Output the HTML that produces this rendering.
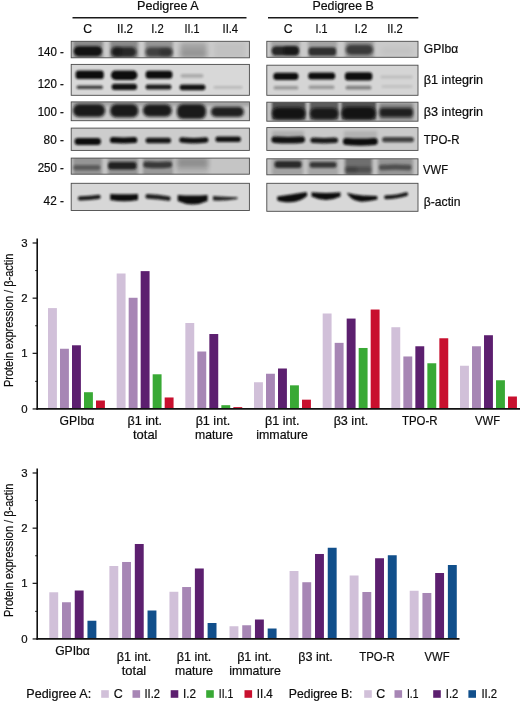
<!DOCTYPE html>
<html lang="en"><head><meta charset="utf-8"><title>Figure</title>
<style>html,body{margin:0;padding:0;background:#fff;}body{width:520px;height:701px;overflow:hidden;}svg{display:block;}text{font-family:"Liberation Sans", sans-serif;fill:#0c0c0c;stroke:#0c0c0c;stroke-width:0.2px;}</style>
</head><body>
<svg width="520" height="701" viewBox="0 0 520 701">
<defs>
<filter id="f0" filterUnits="userSpaceOnUse" x="60" y="30" width="370" height="190"><feGaussianBlur stdDeviation="0.6"/></filter>
<filter id="f1" filterUnits="userSpaceOnUse" x="60" y="30" width="370" height="190"><feGaussianBlur stdDeviation="0.9"/></filter>
<filter id="f2" filterUnits="userSpaceOnUse" x="60" y="30" width="370" height="190"><feGaussianBlur stdDeviation="1.3"/></filter>
<filter id="f3" filterUnits="userSpaceOnUse" x="60" y="30" width="370" height="190"><feGaussianBlur stdDeviation="1.8"/></filter>
<filter id="f4" filterUnits="userSpaceOnUse" x="60" y="30" width="370" height="190"><feGaussianBlur stdDeviation="2.5"/></filter>
<filter id="f5" filterUnits="userSpaceOnUse" x="60" y="30" width="370" height="190"><feGaussianBlur stdDeviation="3.5"/></filter>
</defs>
<rect width="520" height="701" fill="#fff"/>
<text x="167.9" y="10" font-size="12.2" text-anchor="middle" textLength="61.75" lengthAdjust="spacingAndGlyphs" >Pedigree A</text>
<text x="343.1" y="10" font-size="12.2" text-anchor="middle" textLength="61.25" lengthAdjust="spacingAndGlyphs" >Pedigree B</text>
<line x1="72.5" y1="17.85" x2="246.5" y2="17.85" stroke="#1a1a1a" stroke-width="1.5"/>
<line x1="268" y1="17.85" x2="418.3" y2="17.85" stroke="#1a1a1a" stroke-width="1.5"/>
<text x="87.7" y="33" font-size="12.2" text-anchor="middle" textLength="8.8" lengthAdjust="spacingAndGlyphs" >C</text>
<text x="125" y="33" font-size="12.2" text-anchor="middle" textLength="16" lengthAdjust="spacingAndGlyphs" >II.2</text>
<text x="157.5" y="33" font-size="12.2" text-anchor="middle" textLength="12.5" lengthAdjust="spacingAndGlyphs" >I.2</text>
<text x="192" y="33" font-size="12.2" text-anchor="middle" textLength="15" lengthAdjust="spacingAndGlyphs" >II.1</text>
<text x="230.3" y="33" font-size="12.2" text-anchor="middle" textLength="15.5" lengthAdjust="spacingAndGlyphs" >II.4</text>
<text x="288.1" y="33" font-size="12.2" text-anchor="middle" textLength="8.8" lengthAdjust="spacingAndGlyphs" >C</text>
<text x="321.5" y="33" font-size="12.2" text-anchor="middle" textLength="12" lengthAdjust="spacingAndGlyphs" >I.1</text>
<text x="361" y="33" font-size="12.2" text-anchor="middle" textLength="12.5" lengthAdjust="spacingAndGlyphs" >I.2</text>
<text x="395" y="33" font-size="12.2" text-anchor="middle" textLength="15.5" lengthAdjust="spacingAndGlyphs" >II.2</text>
<text x="63.9" y="55.5" font-size="12.2" text-anchor="end" textLength="26.25" lengthAdjust="spacingAndGlyphs" >140 -</text>
<text x="63.9" y="88" font-size="12.2" text-anchor="end" textLength="26.25" lengthAdjust="spacingAndGlyphs" >120 -</text>
<text x="63.9" y="115.5" font-size="12.2" text-anchor="end" textLength="26.25" lengthAdjust="spacingAndGlyphs" >100 -</text>
<text x="63.9" y="143.75" font-size="12.2" text-anchor="end" textLength="20.3" lengthAdjust="spacingAndGlyphs" >80 -</text>
<text x="63.9" y="172" font-size="12.2" text-anchor="end" textLength="26.25" lengthAdjust="spacingAndGlyphs" >250 -</text>
<text x="63.9" y="205.25" font-size="12.2" text-anchor="end" textLength="20.3" lengthAdjust="spacingAndGlyphs" >42 -</text>
<text x="423.75" y="53.25" font-size="12.2" text-anchor="start" textLength="34.5" lengthAdjust="spacingAndGlyphs" >GPIbα</text>
<text x="423.75" y="83.75" font-size="12.2" text-anchor="start" textLength="59.25" lengthAdjust="spacingAndGlyphs" >β1 integrin</text>
<text x="423.75" y="115.5" font-size="12.2" text-anchor="start" textLength="59.25" lengthAdjust="spacingAndGlyphs" >β3 integrin</text>
<text x="423.75" y="144.25" font-size="12.2" text-anchor="start" textLength="35.75" lengthAdjust="spacingAndGlyphs" >TPO-R</text>
<text x="423" y="174.25" font-size="12.2" text-anchor="start" textLength="25" lengthAdjust="spacingAndGlyphs" >VWF</text>
<text x="423.75" y="205.75" font-size="12.2" text-anchor="start" textLength="36.75" lengthAdjust="spacingAndGlyphs" >β-actin</text>
<clipPath id="a1"><rect x="71.2" y="41.3" width="178.2" height="16.5"/></clipPath>
<rect x="71.2" y="41.3" width="178.2" height="16.5" fill="#cccccc"/>
<g clip-path="url(#a1)">
<rect x="73" y="40" width="30" height="19" fill="#101010" opacity="0.34" filter="url(#f3)"/>
<rect x="110" y="40" width="28" height="19" fill="#101010" opacity="0.34" filter="url(#f3)"/>
<rect x="145" y="40" width="28" height="19" fill="#101010" opacity="0.28" filter="url(#f3)"/>
<rect x="180" y="42" width="27" height="17" fill="#101010" opacity="0.2" filter="url(#f4)"/>
<rect x="214" y="42" width="32" height="17" fill="#101010" opacity="0.05" filter="url(#f4)"/>
<rect x="73.8" y="46.2" width="28.2" height="10.0" rx="4.8" fill="#101010" opacity="0.95" filter="url(#f2)"/>
<rect x="111.6" y="47.0" width="24.8" height="10.0" rx="4.8" fill="#101010" opacity="0.78" filter="url(#f3)"/>
<rect x="111.6" y="47.3" width="9.8" height="8.4" rx="3.2" fill="#101010" opacity="0.45" filter="url(#f3)"/>
<rect x="145.6" y="47.2" width="26.8" height="9.6" rx="4.6" fill="#101010" opacity="0.62" filter="url(#f3)"/>
<rect x="159.6" y="48.8" width="12.8" height="7.4" rx="3.2" fill="#101010" opacity="0.25" filter="url(#f3)"/>
<rect x="180.6" y="49.3" width="25.8" height="7.4" rx="3.2" fill="#101010" opacity="0.1" filter="url(#f4)"/>
</g>
<rect x="71.2" y="41.3" width="178.2" height="16.5" fill="none" stroke="#4a4a4a" stroke-width="0.9"/>
<clipPath id="a2"><rect x="71.2" y="64.4" width="178.2" height="30.9"/></clipPath>
<rect x="71.2" y="64.4" width="178.2" height="30.9" fill="#d8d8d8"/>
<g clip-path="url(#a2)">
<rect x="75.6" y="70.5" width="28.2" height="8.6" rx="3.2" fill="#101010" opacity="1" filter="url(#f1)"/>
<rect x="111.0" y="70.5" width="26.4" height="9.4" rx="4.5" fill="#101010" opacity="1" filter="url(#f1)"/>
<rect x="145.6" y="70.8" width="26.8" height="8.0" rx="3.2" fill="#101010" opacity="1" filter="url(#f1)"/>
<rect x="180.6" y="73.9" width="22.8" height="3.8" rx="1.7" fill="#101010" opacity="0.22" filter="url(#f2)"/>
<rect x="76.6" y="85.4" width="26.3" height="3.6" rx="1.6" fill="#101010" opacity="0.75" filter="url(#f1)"/>
<rect x="111.6" y="83.65" width="25.5" height="6.300000000000001" rx="2.95" fill="#101010" opacity="0.97" filter="url(#f1)"/>
<rect x="145.6" y="84.6" width="25.8" height="4.800000000000001" rx="2.2" fill="#101010" opacity="0.92" filter="url(#f1)"/>
<rect x="179.6" y="84.4" width="25.8" height="5.800000000000001" rx="2.7" fill="#101010" opacity="0.97" filter="url(#f1)"/>
<rect x="213.6" y="86.0" width="28.8" height="2.8" rx="1.2" fill="#101010" opacity="0.15" filter="url(#f2)"/>
</g>
<rect x="71.2" y="64.4" width="178.2" height="30.9" fill="none" stroke="#4a4a4a" stroke-width="0.9"/>
<clipPath id="a3"><rect x="71.2" y="101.9" width="178.2" height="18.8"/></clipPath>
<rect x="71.2" y="101.9" width="178.2" height="18.8" fill="#cacaca"/>
<g clip-path="url(#a3)">
<rect x="72" y="101" width="178" height="5" fill="#101010" opacity="0.2" filter="url(#f3)"/>
<rect x="72.9" y="103.9" width="32.3" height="13.0" rx="6.0" fill="#101010" opacity="0.93" filter="url(#f3)"/>
<rect x="110.1" y="103.9" width="28.3" height="13.6" rx="6.0" fill="#101010" opacity="0.93" filter="url(#f3)"/>
<rect x="142.8" y="104.2" width="29.1" height="12.6" rx="6.0" fill="#101010" opacity="0.93" filter="url(#f3)"/>
<rect x="176.9" y="104.0" width="29.2" height="15.0" rx="6.0" fill="#101010" opacity="0.93" filter="url(#f3)"/>
<rect x="210.9" y="106.8" width="33.0" height="10.200000000000001" rx="4.9" fill="#101010" opacity="0.9" filter="url(#f3)"/>
</g>
<rect x="71.2" y="101.9" width="178.2" height="18.8" fill="none" stroke="#4a4a4a" stroke-width="0.9"/>
<clipPath id="a4"><rect x="71.2" y="128.1" width="178.2" height="22.3"/></clipPath>
<rect x="71.2" y="128.1" width="178.2" height="22.3" fill="#cdcdcd"/>
<g clip-path="url(#a4)">
<rect x="74.6" y="138.1" width="26.3" height="6.800000000000001" rx="3.2" fill="#101010" opacity="1" filter="url(#f1)"/>
<path d="M112.9 140.1 Q123.6 140.9 134.3 140.1" fill="none" stroke="#101010" stroke-width="6.0" stroke-linecap="round" opacity="1" filter="url(#f1)"/>
<rect x="145.6" y="137.8" width="25.4" height="5.4" rx="2.5" fill="#101010" opacity="0.95" filter="url(#f1)"/>
<path d="M182.0 140.0 Q193.8 141.6 205.6 140.0" fill="none" stroke="#101010" stroke-width="5.6" stroke-linecap="round" opacity="0.97" filter="url(#f1)"/>
<rect x="215.4" y="136.5" width="25.5" height="5.4" rx="2.5" fill="#101010" opacity="0.97" filter="url(#f1)"/>
</g>
<rect x="71.2" y="128.1" width="178.2" height="22.3" fill="none" stroke="#4a4a4a" stroke-width="0.9"/>
<clipPath id="a5"><rect x="71.2" y="158.1" width="178.2" height="16.1"/></clipPath>
<rect x="71.2" y="158.1" width="178.2" height="16.1" fill="#c5c5c5"/>
<g clip-path="url(#a5)">
<rect x="73" y="157" width="29" height="19" fill="#101010" opacity="0.26" filter="url(#f3)"/>
<rect x="108" y="157" width="30" height="19" fill="#101010" opacity="0.26" filter="url(#f3)"/>
<rect x="143" y="157" width="30" height="19" fill="#101010" opacity="0.24" filter="url(#f3)"/>
<rect x="177" y="157" width="31" height="11" fill="#101010" opacity="0.22" filter="url(#f4)"/>
<rect x="177" y="157" width="31" height="19" fill="#101010" opacity="0.08" filter="url(#f4)"/>
<rect x="73.1" y="165.0" width="27.3" height="5.2" rx="2.4" fill="#101010" opacity="0.42" filter="url(#f2)"/>
<rect x="108.0" y="162.1" width="28.5" height="7.4" rx="3.2" fill="#101010" opacity="0.85" filter="url(#f2)"/>
<path d="M146.3 164.55 Q157.65 165.55 169.0 164.55" fill="none" stroke="#101010" stroke-width="6.2" stroke-linecap="round" opacity="0.68" filter="url(#f2)"/>
</g>
<rect x="71.2" y="158.1" width="178.2" height="16.1" fill="none" stroke="#4a4a4a" stroke-width="0.9"/>
<clipPath id="a6"><rect x="71.2" y="183.3" width="178.2" height="27.2"/></clipPath>
<rect x="71.2" y="183.3" width="178.2" height="27.2" fill="#d7d7d7"/>
<g clip-path="url(#a6)">
<path d="M80 198.4 Q90 198.1 98.6 196.9" fill="none" stroke="#101010" stroke-width="4.3" stroke-linecap="round" opacity="0.93" filter="url(#f1)"/>
<path d="M110.2 194.0 Q124.1 194.4 138.0 194.0 L138.0 200.0 Q124.1 202.4 110.2 200.0 Z" fill="#101010" opacity="1" filter="url(#f1)"/>
<path d="M147.6 196.4 Q158 197 168.4 198.6" fill="none" stroke="#101010" stroke-width="4.6" stroke-linecap="round" opacity="0.9" filter="url(#f1)"/>
<path d="M177.7 194.9 Q192.65 195.9 207.6 194.9 L207.6 200.9 Q192.65 207.9 177.7 200.9 Z" fill="#101010" opacity="1" filter="url(#f1)"/>
<path d="M213.0 196.0 Q225 196.8 237.4 197.2 L237.4 199.0 Q225 201.2 213.0 200.6 Z" fill="#101010" opacity="0.88" filter="url(#f1)"/>
</g>
<rect x="71.2" y="183.3" width="178.2" height="27.2" fill="none" stroke="#4a4a4a" stroke-width="0.9"/>
<clipPath id="b1"><rect x="266.8" y="41.3" width="151.2" height="16.0"/></clipPath>
<rect x="266.8" y="41.3" width="151.2" height="16.0" fill="#cacaca"/>
<g clip-path="url(#b1)">
<rect x="271" y="40" width="29" height="19" fill="#101010" opacity="0.2" filter="url(#f3)"/>
<rect x="308" y="40" width="29" height="19" fill="#101010" opacity="0.2" filter="url(#f3)"/>
<rect x="345" y="40" width="29" height="19" fill="#101010" opacity="0.22" filter="url(#f3)"/>
<rect x="271.6" y="46.2" width="27.3" height="9.4" rx="4.5" fill="#101010" opacity="0.82" filter="url(#f2)"/>
<rect x="283.6" y="46.3" width="15.3" height="8.4" rx="3.2" fill="#101010" opacity="0.5" filter="url(#f2)"/>
<rect x="308.6" y="47.3" width="27.5" height="8.4" rx="3.2" fill="#101010" opacity="0.76" filter="url(#f2)"/>
<rect x="345.8" y="44.6" width="27.3" height="10.4" rx="5.0" fill="#101010" opacity="0.68" filter="url(#f3)"/>
<rect x="381.6" y="47.8" width="30.8" height="6.4" rx="3.0" fill="#101010" opacity="0.04" filter="url(#f4)"/>
</g>
<rect x="266.8" y="41.3" width="151.2" height="16.0" fill="none" stroke="#4a4a4a" stroke-width="0.9"/>
<clipPath id="b2"><rect x="266.8" y="65.2" width="151.2" height="30.1"/></clipPath>
<rect x="266.8" y="65.2" width="151.2" height="30.1" fill="#d5d5d5"/>
<g clip-path="url(#b2)">
<rect x="273.3" y="72.8" width="25.1" height="7.2" rx="3.2" fill="#101010" opacity="1" filter="url(#f1)"/>
<rect x="308.2" y="72.6" width="27.0" height="6.800000000000001" rx="3.2" fill="#101010" opacity="1" filter="url(#f1)"/>
<rect x="344.9" y="72.3" width="27.4" height="8.2" rx="3.2" fill="#101010" opacity="1" filter="url(#f1)"/>
<rect x="380.6" y="75.6" width="31.8" height="2.8" rx="1.2" fill="#101010" opacity="0.11" filter="url(#f2)"/>
<rect x="273.6" y="85.9" width="24.8" height="3.6" rx="1.6" fill="#101010" opacity="0.3" filter="url(#f2)"/>
<rect x="308.6" y="85.5" width="25.8" height="3.4" rx="1.5" fill="#101010" opacity="0.3" filter="url(#f2)"/>
<rect x="345.6" y="85.8" width="25.8" height="3.8" rx="1.7" fill="#101010" opacity="0.42" filter="url(#f2)"/>
<rect x="381.6" y="85.1" width="30.8" height="2.8" rx="1.2" fill="#101010" opacity="0.09" filter="url(#f2)"/>
</g>
<rect x="266.8" y="65.2" width="151.2" height="30.1" fill="none" stroke="#4a4a4a" stroke-width="0.9"/>
<clipPath id="b3"><rect x="266.8" y="102.2" width="151.2" height="19.0"/></clipPath>
<rect x="266.8" y="102.2" width="151.2" height="19.0" fill="#bebebe"/>
<g clip-path="url(#b3)">
<rect x="272" y="101" width="33.5" height="19" fill="#101010" opacity="0.6" filter="url(#f2)"/>
<rect x="310" y="101" width="28.3" height="19" fill="#101010" opacity="0.55" filter="url(#f2)"/>
<rect x="341.5" y="101" width="34.5" height="19" fill="#101010" opacity="0.6" filter="url(#f2)"/>
<rect x="379.5" y="103" width="33.5" height="17" fill="#101010" opacity="0.3" filter="url(#f3)"/>
<rect x="272.1" y="107.45" width="33.3" height="11.9" rx="5.75" fill="#101010" opacity="0.9" filter="url(#f3)"/>
<rect x="310.0" y="108.0" width="28.4" height="11.200000000000001" rx="5.4" fill="#101010" opacity="0.85" filter="url(#f3)"/>
<rect x="341.5" y="107.0" width="34.3" height="12.4" rx="6.0" fill="#101010" opacity="0.9" filter="url(#f3)"/>
<rect x="379.4" y="107.9" width="33.6" height="9.0" rx="3.2" fill="#101010" opacity="0.85" filter="url(#f3)"/>
</g>
<rect x="266.8" y="102.2" width="151.2" height="19.0" fill="none" stroke="#4a4a4a" stroke-width="0.9"/>
<clipPath id="b4"><rect x="266.8" y="127.6" width="151.2" height="22.8"/></clipPath>
<rect x="266.8" y="127.6" width="151.2" height="22.8" fill="#cacaca"/>
<g clip-path="url(#b4)">
<rect x="272" y="131" width="32" height="9" fill="#101010" opacity="0.14" filter="url(#f3)"/>
<rect x="344" y="131" width="33" height="10" fill="#101010" opacity="0.12" filter="url(#f3)"/>
<path d="M274.6 139.75 Q288.2 140.75 301.8 139.75" fill="none" stroke="#101010" stroke-width="6.4" stroke-linecap="round" opacity="0.97" filter="url(#f1)"/>
<path d="M313.05 140.3 Q324.2 141.1 335.35 140.3" fill="none" stroke="#101010" stroke-width="5.5" stroke-linecap="round" opacity="0.92" filter="url(#f1)"/>
<path d="M346.5 141.5 Q360.35 142.7 374.2 141.5" fill="none" stroke="#101010" stroke-width="7.2" stroke-linecap="round" opacity="1" filter="url(#f1)"/>
<rect x="382.1" y="136.9" width="31.8" height="5.4" rx="2.5" fill="#101010" opacity="0.72" filter="url(#f2)"/>
</g>
<rect x="266.8" y="127.6" width="151.2" height="22.8" fill="none" stroke="#4a4a4a" stroke-width="0.9"/>
<clipPath id="b5"><rect x="266.8" y="158.8" width="151.2" height="16.0"/></clipPath>
<rect x="266.8" y="158.8" width="151.2" height="16.0" fill="#c4c4c4"/>
<g clip-path="url(#b5)">
<rect x="272" y="158" width="31" height="18" fill="#101010" opacity="0.18" filter="url(#f3)"/>
<rect x="308" y="158" width="30" height="18" fill="#101010" opacity="0.16" filter="url(#f3)"/>
<rect x="345" y="157" width="27" height="19" fill="#101010" opacity="0.46" filter="url(#f3)"/>
<rect x="378" y="158" width="35" height="18" fill="#101010" opacity="0.26" filter="url(#f3)"/>
<rect x="274.6" y="161.1" width="27.0" height="6.800000000000001" rx="3.2" fill="#101010" opacity="0.8" filter="url(#f2)"/>
<rect x="309.6" y="162.0" width="27.0" height="5.800000000000001" rx="2.7" fill="#101010" opacity="0.72" filter="url(#f2)"/>
<rect x="345.1" y="166.65" width="26.3" height="5.9" rx="2.75" fill="#101010" opacity="0.32" filter="url(#f3)"/>
<rect x="345.6" y="167.1" width="11.8" height="5.4" rx="2.5" fill="#101010" opacity="0.2" filter="url(#f3)"/>
<path d="M381.7 167.45 Q395.25 166.45 408.8 167.45" fill="none" stroke="#101010" stroke-width="5.6" stroke-linecap="round" opacity="0.5" filter="url(#f2)"/>
</g>
<rect x="266.8" y="158.8" width="151.2" height="16.0" fill="none" stroke="#4a4a4a" stroke-width="0.9"/>
<clipPath id="b6"><rect x="266.8" y="183.3" width="151.2" height="28.0"/></clipPath>
<rect x="266.8" y="183.3" width="151.2" height="28.0" fill="#d8d8d8"/>
<g clip-path="url(#b6)">
<path d="M277.2 196.4 Q290 194.6 306.6 191.9 L307.4 195.6 Q301 202.2 290 202.2 Q281 202.2 277.2 200.2 Z" fill="#101010" opacity="1" filter="url(#f1)"/>
<path d="M311.5 192.2 Q326 193.6 340.5 192.2 L340.5 196.6 Q326 203.6 311.5 196.6 Z" fill="#101010" opacity="1" filter="url(#f1)"/>
<path d="M346.8 192.8 Q355 195 363 195.4 L377.2 196 L377.4 199.6 Q368 201.9 360 201.6 Q350.5 200.4 346.8 192.8 Z" fill="#101010" opacity="1" filter="url(#f1)"/>
<path d="M386 197.2 Q397 197.2 406.2 194.2" fill="none" stroke="#101010" stroke-width="3.9" stroke-linecap="round" opacity="0.95" filter="url(#f1)"/>
</g>
<rect x="266.8" y="183.3" width="151.2" height="28.0" fill="none" stroke="#4a4a4a" stroke-width="0.9"/>
<rect x="48.0" y="308.09" width="8.9" height="100.91" fill="#d1c0d9"/>
<rect x="60.0" y="348.75" width="8.9" height="60.25" fill="#a786b5"/>
<rect x="72.0" y="345.28" width="8.9" height="63.72" fill="#5c1f6f"/>
<rect x="84.0" y="392.22" width="8.9" height="16.78" fill="#39a935"/>
<rect x="96.0" y="400.5" width="8.9" height="8.5" fill="#c8102e"/>
<rect x="116.67" y="273.5" width="8.9" height="135.5" fill="#d1c0d9"/>
<rect x="128.67" y="297.77" width="8.9" height="111.23" fill="#a786b5"/>
<rect x="140.67" y="271.13" width="8.9" height="137.87" fill="#5c1f6f"/>
<rect x="152.67" y="374.29" width="8.9" height="34.71" fill="#39a935"/>
<rect x="164.67" y="397.47" width="8.9" height="11.53" fill="#c8102e"/>
<rect x="185.34" y="322.99" width="8.9" height="86.01" fill="#d1c0d9"/>
<rect x="197.34" y="351.51" width="8.9" height="57.49" fill="#a786b5"/>
<rect x="209.34" y="334.02" width="8.9" height="74.98" fill="#5c1f6f"/>
<rect x="221.34" y="405.19" width="8.9" height="3.81" fill="#39a935"/>
<rect x="233.34" y="407.12" width="8.9" height="1.88" fill="#c8102e"/>
<rect x="254.01" y="382.24" width="8.9" height="26.76" fill="#d1c0d9"/>
<rect x="266.01" y="373.74" width="8.9" height="35.26" fill="#a786b5"/>
<rect x="278.01" y="368.5" width="8.9" height="40.5" fill="#5c1f6f"/>
<rect x="290.01" y="385.33" width="8.9" height="23.67" fill="#39a935"/>
<rect x="302.01" y="399.67" width="8.9" height="9.33" fill="#c8102e"/>
<rect x="322.68" y="313.5" width="8.9" height="95.5" fill="#d1c0d9"/>
<rect x="334.68" y="342.85" width="8.9" height="66.15" fill="#a786b5"/>
<rect x="346.68" y="318.57" width="8.9" height="90.43" fill="#5c1f6f"/>
<rect x="358.68" y="347.98" width="8.9" height="61.02" fill="#39a935"/>
<rect x="370.68" y="309.53" width="8.9" height="99.47" fill="#c8102e"/>
<rect x="391.35" y="327.23" width="8.9" height="81.77" fill="#d1c0d9"/>
<rect x="403.35" y="356.47" width="8.9" height="52.53" fill="#a786b5"/>
<rect x="415.35" y="346.27" width="8.9" height="62.73" fill="#5c1f6f"/>
<rect x="427.35" y="363.26" width="8.9" height="45.74" fill="#39a935"/>
<rect x="439.35" y="338.27" width="8.9" height="70.73" fill="#c8102e"/>
<rect x="460.02" y="365.74" width="8.9" height="43.26" fill="#d1c0d9"/>
<rect x="472.02" y="346.27" width="8.9" height="62.73" fill="#a786b5"/>
<rect x="484.02" y="335.23" width="8.9" height="73.77" fill="#5c1f6f"/>
<rect x="496.02" y="380.25" width="8.9" height="28.75" fill="#39a935"/>
<rect x="508.02" y="396.5" width="8.9" height="12.5" fill="#c8102e"/>
<line x1="37.2" y1="238.49" x2="37.2" y2="409.8" stroke="#111" stroke-width="1.6"/>
<line x1="36.400000000000006" y1="408.95" x2="520" y2="408.95" stroke="#111" stroke-width="1.8"/>
<line x1="32.6" y1="408.95" x2="37.2" y2="408.95" stroke="#111" stroke-width="1.2"/>
<text x="27.7" y="412.6" font-size="11.4" text-anchor="end" >0</text>
<line x1="35.2" y1="381.37" x2="37.2" y2="381.37" stroke="#111" stroke-width="1"/>
<line x1="32.6" y1="353.33" x2="37.2" y2="353.33" stroke="#111" stroke-width="1.2"/>
<text x="27.7" y="357.43" font-size="11.4" text-anchor="end" >1</text>
<line x1="35.2" y1="325.75" x2="37.2" y2="325.75" stroke="#111" stroke-width="1"/>
<line x1="32.6" y1="298.16" x2="37.2" y2="298.16" stroke="#111" stroke-width="1.2"/>
<text x="27.7" y="302.26" font-size="11.4" text-anchor="end" >2</text>
<line x1="35.2" y1="270.58" x2="37.2" y2="270.58" stroke="#111" stroke-width="1"/>
<line x1="32.6" y1="242.99" x2="37.2" y2="242.99" stroke="#111" stroke-width="1.2"/>
<text x="27.7" y="247.09" font-size="11.4" text-anchor="end" >3</text>
<text transform="translate(12.6,320.35) rotate(-90)" font-size="13.2" text-anchor="middle" textLength="133.5" lengthAdjust="spacingAndGlyphs">Protein expression / β-actin</text>
<text x="76.9" y="425" font-size="12.2" text-anchor="middle" textLength="34.75" lengthAdjust="spacingAndGlyphs" >GPIbα</text>
<text x="144.75" y="425" font-size="12.2" text-anchor="middle" textLength="34.5" lengthAdjust="spacingAndGlyphs" >β1 int.</text>
<text x="145.25" y="439.25" font-size="12.2" text-anchor="middle" textLength="24.5" lengthAdjust="spacingAndGlyphs" >total</text>
<text x="212.9" y="425" font-size="12.2" text-anchor="middle" textLength="34.5" lengthAdjust="spacingAndGlyphs" >β1 int.</text>
<text x="214" y="439.25" font-size="12.2" text-anchor="middle" textLength="38" lengthAdjust="spacingAndGlyphs" >mature</text>
<text x="282.25" y="425" font-size="12.2" text-anchor="middle" textLength="34.5" lengthAdjust="spacingAndGlyphs" >β1 int.</text>
<text x="282.1" y="439.25" font-size="12.2" text-anchor="middle" textLength="51.75" lengthAdjust="spacingAndGlyphs" >immature</text>
<text x="350.9" y="425" font-size="12.2" text-anchor="middle" textLength="34.5" lengthAdjust="spacingAndGlyphs" >β3 int.</text>
<text x="419.75" y="424.75" font-size="12.2" text-anchor="middle" textLength="35.5" lengthAdjust="spacingAndGlyphs" >TPO-R</text>
<text x="487.5" y="424.75" font-size="12.2" text-anchor="middle" textLength="25" lengthAdjust="spacingAndGlyphs" >VWF</text>
<rect x="49.3" y="592.27" width="8.9" height="46.73" fill="#d1c0d9"/>
<rect x="62.02" y="602.25" width="8.9" height="36.75" fill="#a786b5"/>
<rect x="74.74" y="590.5" width="8.9" height="48.5" fill="#5c1f6f"/>
<rect x="87.46" y="620.74" width="8.9" height="18.26" fill="#114f8b"/>
<rect x="109.37" y="566.01" width="8.9" height="72.99" fill="#d1c0d9"/>
<rect x="122.09" y="561.98" width="8.9" height="77.02" fill="#a786b5"/>
<rect x="134.81" y="543.99" width="8.9" height="95.01" fill="#5c1f6f"/>
<rect x="147.53" y="610.5" width="8.9" height="28.5" fill="#114f8b"/>
<rect x="169.44" y="591.77" width="8.9" height="47.23" fill="#d1c0d9"/>
<rect x="182.16" y="587.03" width="8.9" height="51.97" fill="#a786b5"/>
<rect x="194.88" y="568.49" width="8.9" height="70.51" fill="#5c1f6f"/>
<rect x="207.6" y="623.0" width="8.9" height="16.0" fill="#114f8b"/>
<rect x="229.51" y="626.25" width="8.9" height="12.75" fill="#d1c0d9"/>
<rect x="242.23" y="625.26" width="8.9" height="13.74" fill="#a786b5"/>
<rect x="254.95" y="619.52" width="8.9" height="19.48" fill="#5c1f6f"/>
<rect x="267.67" y="628.51" width="8.9" height="10.49" fill="#114f8b"/>
<rect x="289.58" y="571.0" width="8.9" height="68.0" fill="#d1c0d9"/>
<rect x="302.3" y="582.23" width="8.9" height="56.77" fill="#a786b5"/>
<rect x="315.02" y="553.98" width="8.9" height="85.02" fill="#5c1f6f"/>
<rect x="327.74" y="547.75" width="8.9" height="91.25" fill="#114f8b"/>
<rect x="349.65" y="575.5" width="8.9" height="63.5" fill="#d1c0d9"/>
<rect x="362.37" y="591.99" width="8.9" height="47.01" fill="#a786b5"/>
<rect x="375.09" y="558.25" width="8.9" height="80.75" fill="#5c1f6f"/>
<rect x="387.81" y="555.25" width="8.9" height="83.75" fill="#114f8b"/>
<rect x="409.72" y="590.75" width="8.9" height="48.25" fill="#d1c0d9"/>
<rect x="422.44" y="592.98" width="8.9" height="46.02" fill="#a786b5"/>
<rect x="435.16" y="573.01" width="8.9" height="65.99" fill="#5c1f6f"/>
<rect x="447.88" y="565.01" width="8.9" height="73.99" fill="#114f8b"/>
<line x1="37.2" y1="468.49" x2="37.2" y2="639.8" stroke="#111" stroke-width="1.6"/>
<line x1="36.400000000000006" y1="638.95" x2="459.5" y2="638.95" stroke="#111" stroke-width="1.8"/>
<line x1="32.6" y1="638.95" x2="37.2" y2="638.95" stroke="#111" stroke-width="1.2"/>
<text x="27.7" y="642.6" font-size="11.4" text-anchor="end" >0</text>
<line x1="35.2" y1="611.37" x2="37.2" y2="611.37" stroke="#111" stroke-width="1"/>
<line x1="32.6" y1="583.33" x2="37.2" y2="583.33" stroke="#111" stroke-width="1.2"/>
<text x="27.7" y="587.43" font-size="11.4" text-anchor="end" >1</text>
<line x1="35.2" y1="555.75" x2="37.2" y2="555.75" stroke="#111" stroke-width="1"/>
<line x1="32.6" y1="528.16" x2="37.2" y2="528.16" stroke="#111" stroke-width="1.2"/>
<text x="27.7" y="532.26" font-size="11.4" text-anchor="end" >2</text>
<line x1="35.2" y1="500.57" x2="37.2" y2="500.57" stroke="#111" stroke-width="1"/>
<line x1="32.6" y1="472.99" x2="37.2" y2="472.99" stroke="#111" stroke-width="1.2"/>
<text x="27.7" y="477.09" font-size="11.4" text-anchor="end" >3</text>
<text transform="translate(12.6,550.35) rotate(-90)" font-size="13.2" text-anchor="middle" textLength="133.5" lengthAdjust="spacingAndGlyphs">Protein expression / β-actin</text>
<text x="72.5" y="655.25" font-size="12.2" text-anchor="middle" textLength="34.75" lengthAdjust="spacingAndGlyphs" >GPIbα</text>
<text x="134.1" y="661" font-size="12.2" text-anchor="middle" textLength="34.5" lengthAdjust="spacingAndGlyphs" >β1 int.</text>
<text x="134" y="675" font-size="12.2" text-anchor="middle" textLength="24.5" lengthAdjust="spacingAndGlyphs" >total</text>
<text x="194.1" y="661" font-size="12.2" text-anchor="middle" textLength="34.5" lengthAdjust="spacingAndGlyphs" >β1 int.</text>
<text x="194" y="675" font-size="12.2" text-anchor="middle" textLength="38" lengthAdjust="spacingAndGlyphs" >mature</text>
<text x="254.4" y="661" font-size="12.2" text-anchor="middle" textLength="34.5" lengthAdjust="spacingAndGlyphs" >β1 int.</text>
<text x="255" y="675" font-size="12.2" text-anchor="middle" textLength="51.75" lengthAdjust="spacingAndGlyphs" >immature</text>
<text x="315.6" y="661" font-size="12.2" text-anchor="middle" textLength="34.5" lengthAdjust="spacingAndGlyphs" >β3 int.</text>
<text x="377" y="660.5" font-size="12.2" text-anchor="middle" textLength="35.5" lengthAdjust="spacingAndGlyphs" >TPO-R</text>
<text x="437" y="660.5" font-size="12.2" text-anchor="middle" textLength="25" lengthAdjust="spacingAndGlyphs" >VWF</text>
<text x="26.25" y="697.75" font-size="12.2" text-anchor="start" textLength="65" lengthAdjust="spacingAndGlyphs" >Pedigree A:</text>
<rect x="101.2" y="690.2" width="7.6" height="7.6" fill="#d1c0d9"/>
<text x="113.75" y="697.75" font-size="12.2" text-anchor="start" textLength="9" lengthAdjust="spacingAndGlyphs" >C</text>
<rect x="132.5" y="690.2" width="7.6" height="7.6" fill="#a786b5"/>
<text x="144.5" y="697.75" font-size="12.2" text-anchor="start" textLength="15.5" lengthAdjust="spacingAndGlyphs" >II.2</text>
<rect x="170.7" y="690.2" width="7.6" height="7.6" fill="#5c1f6f"/>
<text x="183" y="697.75" font-size="12.2" text-anchor="start" textLength="13" lengthAdjust="spacingAndGlyphs" >I.2</text>
<rect x="206.2" y="690.2" width="7.6" height="7.6" fill="#39a935"/>
<text x="218.75" y="697.75" font-size="12.2" text-anchor="start" textLength="14.5" lengthAdjust="spacingAndGlyphs" >II.1</text>
<rect x="244.5" y="690.2" width="7.6" height="7.6" fill="#c8102e"/>
<text x="256.75" y="697.75" font-size="12.2" text-anchor="start" textLength="16" lengthAdjust="spacingAndGlyphs" >II.4</text>
<text x="288.75" y="697.75" font-size="12.2" text-anchor="start" textLength="63.75" lengthAdjust="spacingAndGlyphs" >Pedigree B:</text>
<rect x="364.2" y="690.2" width="7.6" height="7.6" fill="#d1c0d9"/>
<text x="376.25" y="697.75" font-size="12.2" text-anchor="start" textLength="9" lengthAdjust="spacingAndGlyphs" >C</text>
<rect x="394.5" y="690.2" width="7.6" height="7.6" fill="#a786b5"/>
<text x="407" y="697.75" font-size="12.2" text-anchor="start" textLength="11.5" lengthAdjust="spacingAndGlyphs" >I.1</text>
<rect x="433.2" y="690.2" width="7.6" height="7.6" fill="#5c1f6f"/>
<text x="445.8" y="697.75" font-size="12.2" text-anchor="start" textLength="12.6" lengthAdjust="spacingAndGlyphs" >I.2</text>
<rect x="468.4" y="690.2" width="7.6" height="7.6" fill="#114f8b"/>
<text x="481.4" y="697.75" font-size="12.2" text-anchor="start" textLength="15.7" lengthAdjust="spacingAndGlyphs" >II.2</text>
</svg></body></html>
